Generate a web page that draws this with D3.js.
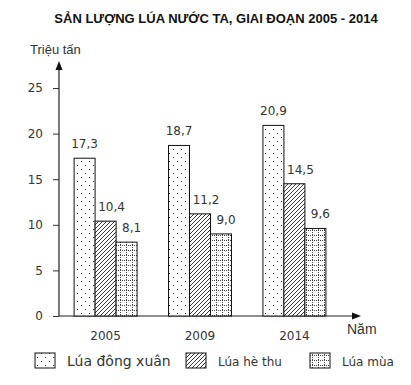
<!DOCTYPE html>
<html lang="vi">
<head>
<meta charset="UTF-8">
<title>Sản lượng lúa</title>
<script src="https://d3js.org/d3.v7.min.js"></script>
<style>
    body { margin: 0; background: #fff; }
    svg text { fill: #333; }
</style>
</head>
<body>
<svg id="chart" width="411" height="385"></svg>
<script>
    // Data
    var years = ["2005", "2009", "2014"];
    var seriesNames = ["Lúa đông xuân", "Lúa hè thu", "Lúa mùa"];
    var dongXuan = [17.3, 18.7, 20.9];
    var heThu = [10.4, 11.2, 14.5];
    var luaMua = [8.1, 9.0, 9.6];
    var yTicks = [0, 5, 10, 15, 20, 25];

    var series = [dongXuan, heThu, luaMua];
    var patterns = ["url(#p-dots)", "url(#p-hatch)", "url(#p-grid)"];
    var labelShift = [0, 6, 5];

    var svg = d3.select("#chart");

    // Patterns
    var defs = svg.append("defs");
    var dots = defs.append("pattern").attr("id", "p-dots")
        .attr("patternUnits", "userSpaceOnUse").attr("width", 8).attr("height", 8);
    dots.append("rect").attr("width", 8).attr("height", 8).attr("fill", "#fff");
    dots.append("rect").attr("x", 1).attr("y", 1).attr("width", 1).attr("height", 1).attr("fill", "#333");
    dots.append("rect").attr("x", 5).attr("y", 5).attr("width", 1).attr("height", 1).attr("fill", "#333");

    var hatch = defs.append("pattern").attr("id", "p-hatch")
        .attr("patternUnits", "userSpaceOnUse").attr("width", 4).attr("height", 4);
    hatch.append("rect").attr("width", 4).attr("height", 4).attr("fill", "#fff");
    hatch.append("path").attr("d", "M-1,1 l2,-2 M0,4 l4,-4 M3,5 l2,-2")
        .attr("stroke", "#222").attr("stroke-width", 0.9);

    var grid = defs.append("pattern").attr("id", "p-grid")
        .attr("patternUnits", "userSpaceOnUse").attr("width", 6).attr("height", 5);
    grid.append("rect").attr("width", 6).attr("height", 5).attr("fill", "#fff");
    grid.append("path").attr("d", "M0,0.5 H6 M0.5,0 V5")
        .attr("stroke", "#444").attr("stroke-width", 1).attr("stroke-dasharray", "1,1");

    // Scales
    var x = d3.scaleBand().domain(years).range([59, 341])
        .paddingInner(0.333).paddingOuter(0.16);
    var xs = d3.scaleBand().domain(d3.range(3)).range([0, x.bandwidth()]);
    var y = d3.scaleLinear().domain([0, 25]).range([316, 88]);

    // Title
    svg.append("text")
        .attr("x", 216).attr("y", 23)
        .attr("text-anchor", "middle")
        .style("font-family", "Liberation Sans, Arial, sans-serif")
        .style("font-weight", "bold").style("font-size", "13px")
        .style("fill", "#111")
        .text("SẢN LƯỢNG LÚA NƯỚC TA, GIAI ĐOẠN 2005 - 2014");

    // Y axis
    var yAxis = svg.append("g")
        .attr("transform", "translate(59,0)")
        .call(d3.axisLeft(y).tickValues(yTicks).tickSize(6).tickPadding(10).tickFormat(d3.format("d")));
    yAxis.select(".domain").remove();
    yAxis.selectAll(".tick line").attr("stroke", "#333");
    yAxis.selectAll("text").style("font-family", "DejaVu Sans, Verdana, sans-serif")
        .style("font-size", "12px").style("fill", "#333");

    svg.append("line").attr("x1", 59).attr("x2", 59).attr("y1", y(0)).attr("y2", 68)
        .attr("stroke", "#222").attr("stroke-width", 1.2);
    svg.append("path").attr("d", "M59,61 L55.5,70 L62.5,70 Z").attr("fill", "#111");

    svg.append("line").attr("x1", 59).attr("x2", 354).attr("y1", y(0)).attr("y2", y(0))
        .attr("stroke", "#222").attr("stroke-width", 1.2);
    svg.append("path").attr("d", "M361,316 L352,312.5 L352,319.5 Z").attr("fill", "#111");

    svg.append("text").attr("x", 30).attr("y", 54)
        .style("font-family", "Liberation Sans, Arial, sans-serif").style("font-size", "13px")
        .text("Triệu tấn");

    svg.append("text").attr("x", 347).attr("y", 334)
        .style("font-family", "Liberation Sans, Arial, sans-serif").style("font-size", "14px")
        .text("Năm");

    // X labels
    svg.selectAll(".xlab").data(years).enter().append("text")
        .attr("class", "xlab")
        .attr("x", d => x(d) + x.bandwidth() / 2)
        .attr("y", 340)
        .attr("text-anchor", "middle")
        .style("font-family", "DejaVu Sans, Verdana, sans-serif").style("font-size", "12px")
        .text(d => d);

    // Bars
    series.forEach(function (vals, si) {
        var g = svg.append("g");
        g.selectAll("rect").data(vals).enter().append("rect")
            .attr("x", (d, i) => x(years[i]) + xs(si))
            .attr("y", d => y(d))
            .attr("width", xs.bandwidth())
            .attr("height", d => y(0) - y(d))
            .attr("fill", patterns[si])
            .attr("stroke", "#111").attr("stroke-width", 1);
        g.selectAll("text").data(vals).enter().append("text")
            .attr("x", (d, i) => x(years[i]) + xs(si) + xs.bandwidth() / 2 + labelShift[si])
            .attr("y", d => y(d) - 10)
            .attr("text-anchor", "middle")
            .style("font-family", "DejaVu Sans, Verdana, sans-serif").style("font-size", "12px")
            .text(d => d3.format(".1f")(d).replace(".", ","));
    });

    // Legend
    var legX = [35, 186, 310];
    var legSize = [14, 12, 12];
    seriesNames.forEach(function (name, i) {
        svg.append("rect").attr("x", legX[i]).attr("y", 353)
            .attr("width", 20).attr("height", 15)
            .attr("fill", patterns[i]).attr("stroke", "#111");
        svg.append("text").attr("x", legX[i] + 32).attr("y", 366)
            .style("font-family", "DejaVu Sans, Verdana, sans-serif").style("font-size", legSize[i] + "px")
            .text(name);
    });
</script>
</body>
</html>
